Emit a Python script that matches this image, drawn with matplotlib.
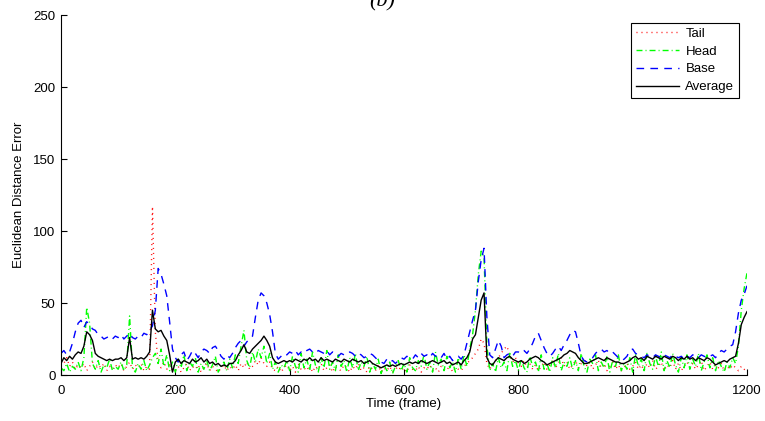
import numpy as np
import matplotlib
matplotlib.use("Agg")
import matplotlib.pyplot as plt

# Frame sampling (every 5 frames)
frames = list(range(0, 1201, 5))

tail = [
    10, 8, 12, 6, 9, 4, 7, 5, 8, 3, 6, 9, 4, 7, 5, 8, 3, 6, 4, 7,
    5, 8, 3, 6, 9, 4, 7, 5, 8, 3, 6, 4, 117, 30, 8, 5, 9, 4, 7, 3,
    3, 6, 2, 5, 8, 3, 6, 4, 7, 2, 5, 8, 3, 6, 4, 2, 5, 7, 3, 6,
    4, 7, 3, 8, 5, 9, 4, 6, 10, 7, 12, 8, 6, 9, 4, 3, 6, 2, 5, 7,
    3, 6, 2, 8, 4, 5, 3, 7, 2, 6, 4, 8, 3, 5, 7, 2, 6, 4, 3, 7,
    5, 2, 6, 4, 8, 3, 5, 2, 6, 4, 3, 7, 2, 5, 3, 6, 2, 4, 6, 3,
    5, 2, 7, 4, 3, 6, 2, 5, 4, 7, 3, 5, 2, 6, 4, 3, 7, 2, 5, 4,
    3, 6, 8, 10, 12, 15, 18, 25, 22, 8, 4, 7, 10, 12, 15, 18, 20, 14, 9, 12,
    8, 6, 10, 5, 8, 4, 7, 3, 6, 9, 4, 7, 10, 5, 8, 12, 6, 9, 4, 7,
    10, 5, 8, 12, 6, 9, 4, 7, 10, 5, 8, 3, 6, 9, 4, 7, 3, 5, 8, 4,
    6, 9, 4, 7, 3, 8, 5, 10, 4, 6, 9, 3, 7, 5, 10, 4, 8, 3, 6, 9,
    5, 8, 4, 7, 10, 3, 6, 9, 4, 7, 5, 8, 3, 6, 4, 7, 5, 3, 6, 4,
    2,
]

head = [
    5, 3, 8, 2, 6, 4, 9, 3, 12, 47, 36, 8, 4, 10, 2, 7, 5, 11, 3, 6,
    4, 9, 3, 7, 41, 5, 2, 8, 4, 10, 3, 7, 12, 15, 8, 18, 6, 14, 3, 9,
    2, 11, 5, 14, 3, 9, 6, 12, 2, 8, 4, 10, 3, 7, 13, 2, 6, 9, 3, 11,
    5, 14, 8, 20, 31, 10, 5, 16, 9, 18, 12, 20, 8, 15, 4, 9, 2, 7, 5, 10,
    3, 13, 6, 2, 15, 5, 11, 3, 16, 7, 2, 12, 5, 17, 4, 9, 3, 14, 6, 10,
    2, 12, 5, 15, 3, 9, 6, 13, 2, 8, 4, 11, 1, 7, 3, 9, 1, 6, 10, 3,
    8, 2, 12, 5, 3, 10, 6, 14, 4, 9, 2, 16, 7, 11, 3, 13, 5, 9, 2, 12,
    4, 14, 6, 18, 28, 45, 70, 86, 82, 20, 3, 8, 2, 12, 5, 9, 3, 15, 6, 10,
    3, 11, 5, 2, 13, 6, 9, 2, 14, 4, 8, 2, 12, 5, 15, 3, 9, 6, 12, 4,
    10, 3, 15, 6, 2, 11, 8, 14, 3, 9, 5, 13, 2, 10, 6, 14, 3, 8, 4, 12,
    2, 14, 6, 11, 3, 15, 8, 4, 13, 6, 16, 3, 10, 5, 15, 7, 2, 12, 5, 14,
    4, 11, 6, 15, 3, 9, 14, 5, 12, 3, 10, 6, 2, 9, 5, 12, 8, 20, 45, 60,
    71,
]

base = [
    15, 17, 14, 16, 22, 30, 36, 38, 33, 37, 35, 32, 31, 28, 27, 25, 26, 27, 25, 27,
    26, 28, 25, 27, 29, 26, 25, 27, 26, 29, 28, 31, 34, 45, 74, 70, 63, 55, 37, 18,
    12, 9, 14, 16, 10, 13, 17, 15, 12, 16, 18, 17, 15, 19, 20, 17, 13, 11, 14, 12,
    15, 19, 22, 24, 20, 23, 25, 27, 40, 52, 57, 55, 50, 42, 30, 15, 11, 13, 15, 14,
    16, 15, 17, 14, 16, 15, 17, 18, 16, 15, 17, 16, 15, 17, 14, 16, 15, 13, 15, 14,
    14, 16, 15, 13, 15, 14, 12, 13, 15, 14, 12, 10, 9, 8, 11, 9, 10, 8, 10, 12,
    11, 13, 12, 11, 14, 12, 15, 13, 14, 12, 15, 13, 14, 12, 15, 11, 13, 10, 12, 13,
    11, 14, 22, 30, 38, 45, 65, 80, 88, 40, 14, 12, 18, 24, 20, 12, 14, 15, 13, 16,
    16, 15, 17, 15, 18, 22, 27, 29, 24, 19, 15, 13, 15, 18, 20, 17, 21, 24, 28, 31,
    30, 22, 13, 10, 9, 11, 12, 15, 17, 18, 16, 17, 15, 16, 14, 12, 10, 11, 13, 17,
    18, 15, 14, 13, 12, 14, 13, 12, 14, 13, 12, 14, 13, 12, 14, 13, 12, 13, 11, 13,
    12, 14, 13, 12, 14, 13, 12, 13, 14, 12, 15, 17, 16, 18, 20, 21, 30, 43, 52, 56,
    62,
]

average = [
    8, 12, 10, 13, 11, 14, 16, 15, 20, 30, 28, 24, 15, 13, 12, 11, 10, 11, 10, 11,
    11, 12, 10, 12, 26, 11, 12, 11, 12, 11, 13, 16, 45, 32, 30, 31, 27, 24, 14, 2,
    9, 11, 8, 10, 9, 8, 11, 9, 10, 12, 9, 11, 8, 9, 7, 8, 6, 7, 6, 8,
    8, 10, 14, 17, 21, 16, 15, 18, 20, 22, 24, 27, 24, 20, 12, 9, 8, 9, 10, 9,
    10, 9, 11, 10, 9, 11, 10, 12, 10, 11, 9, 12, 10, 11, 10, 9, 11, 10, 9, 11,
    10, 9, 11, 10, 9, 10, 8, 9, 10, 8, 7, 6, 5, 6, 7, 6, 7, 6, 7, 8,
    7, 8, 9, 8, 9, 8, 10, 9, 8, 9, 10, 9, 8, 9, 10, 8, 9, 7, 8, 9,
    7, 10, 12, 16, 25, 28, 40, 52, 57, 12, 8, 7, 10, 12, 11, 10, 12, 13, 11, 10,
    9, 10, 8, 9, 11, 12, 13, 12, 10, 9, 7, 8, 9, 10, 11, 12, 14, 15, 17, 16,
    15, 12, 10, 8, 8, 9, 10, 11, 12, 11, 10, 12, 11, 10, 9, 9, 8, 8, 9, 10,
    12, 13, 11, 12, 10, 13, 12, 11, 13, 12, 11, 13, 12, 11, 13, 12, 10, 12, 11, 13,
    11, 12, 10, 12, 11, 10, 12, 11, 9, 7, 8, 9, 10, 9, 11, 12, 13, 22, 35, 40,
    44,
]

xticks = [0, 200, 400, 600, 800, 1000, 1200]
yticks = [0, 50, 100, 150, 200, 250]

plt.rcParams['font.family'] = ['Liberation Sans', 'DejaVu Sans']
plt.rcParams['font.size'] = 9.5

fig = plt.figure(figsize=(7.65, 4.21), dpi=100)
ax = fig.add_axes([61 / 765, 46 / 421, (747 - 61) / 765, (375 - 15) / 421])

lw = 1.0
l1, = ax.plot(frames, tail, color='#ff0000', lw=lw, label='Tail')
l1.set_dashes((0.7, 2.9))
l2, = ax.plot(frames, head, color='#00ff00', lw=lw, label='Head')
l2.set_dashes((4.3, 2.2, 0.7, 2.2))
l3, = ax.plot(frames, base, color='#0000ff', lw=lw, label='Base')
l3.set_dashes((5.5, 4.5))
l4, = ax.plot(frames, average, color='black', lw=lw, label='Average')

ax.set_xlim(0, 1200)
ax.set_ylim(0, 250)
ax.set_xticks(xticks)
ax.set_yticks(yticks)
ax.tick_params(axis='x', direction='in', length=4, width=0.8, top=False, pad=7)
ax.tick_params(axis='y', direction='in', length=4, width=0.8, right=False, pad=4)
for s in ['top', 'right']:
    ax.spines[s].set_visible(False)
for s in ['left', 'bottom']:
    ax.spines[s].set_linewidth(0.8)

ax.set_xlabel('Time (frame)', labelpad=1)
ax.set_ylabel('Euclidean Distance Error', labelpad=6)

leg = ax.legend(loc='upper right', bbox_to_anchor=(1 - 8 / 686, 1 - 8 / 360),
                frameon=True, fancybox=False, framealpha=1, edgecolor='black',
                handlelength=3.3, handletextpad=0.45, labelspacing=0.42,
                borderpad=0.35, borderaxespad=0)
leg.get_frame().set_linewidth(0.8)

fig.text(382 / 765, 1 - 6 / 421, '(b)', ha='center', va='baseline',
         fontsize=16, style='italic', family='Liberation Serif')

fig.savefig('out.png', dpi=100)
